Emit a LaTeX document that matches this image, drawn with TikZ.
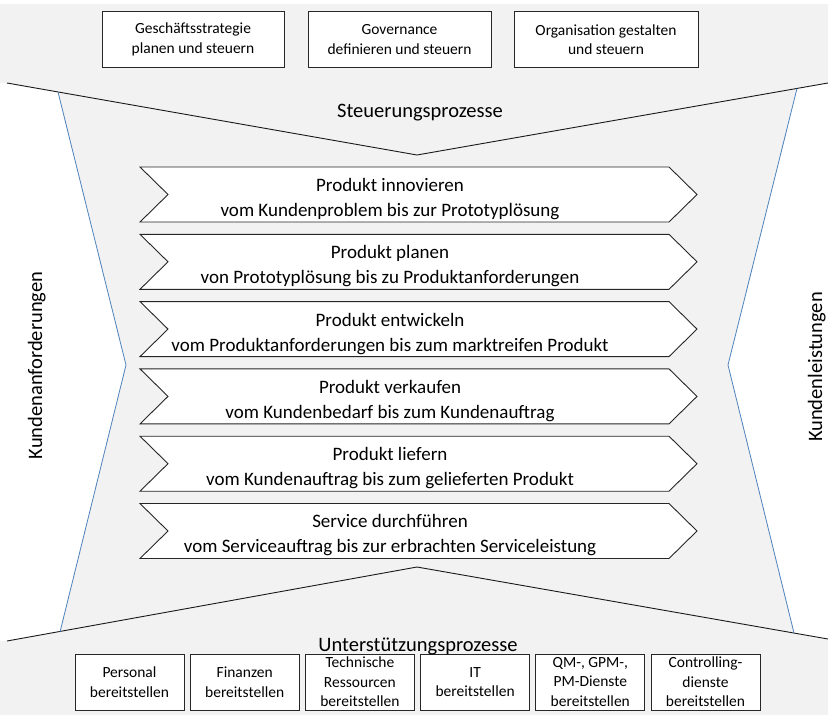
\documentclass[tikz,border=0pt]{standalone}
\usepackage{fontspec}
\setmainfont{Carlito}
\begin{document}
\begin{tikzpicture}[x=1pt,y=-1pt,
  band/.style={fill={rgb,255:red,242;green,242;blue,242}},
  edge/.style={draw=black!90,line width=0.9pt},
  side/.style={draw={rgb,255:red,79;green,129;blue,189},line width=0.8pt},
  procbox/.style={draw=black!85,line width=1pt,fill=white,rectangle,
    minimum height=56pt,inner sep=0pt,align=center,
    font=\fontsize{15.5}{19.5}\selectfont},
  chevron/.style={draw=black!85,line width=0.9pt,fill=white},
  chevtext/.style={align=center,font=\fontsize{19}{25}\selectfont},
  heading/.style={font=\fontsize{20.5}{24}\selectfont,anchor=base}]

\useasboundingbox (0,0) rectangle (828,715);
\fill[white] (0,0) rectangle (828,715);

% corner points of the funnel outline
\coordinate (tl) at (7,83);
\coordinate (tc) at (417,155);
\coordinate (tr) at (828,83);
\coordinate (bl) at (7,641);
\coordinate (bc) at (417,567);
\coordinate (br) at (828,639);
\coordinate (lt) at (58,92);
\coordinate (lm) at (126,365);
\coordinate (lb) at (60,632);
\coordinate (rt) at (797,88.5);
\coordinate (rm) at (728,365);
\coordinate (rb) at (794,633);

% grey areas
\fill[band] (0,4) -- (828,4) -- (tr) -- (tc) -- (tl) -- (0,83) -- cycle;
\fill[band] (lt) -- (tc) -- (rt) -- (rm) -- (rb) -- (bc) -- (lb) -- (lm) -- cycle;
\fill[band] (0,641) -- (bl) -- (bc) -- (br) -- (828,715) -- (0,715) -- cycle;

% outlines
\draw[edge] (tl) -- (tc) -- (tr);
\draw[edge] (bl) -- (bc) -- (br);
\draw[side] (lt) -- (lm) -- (lb);
\draw[side] (rt) -- (rm) -- (rb);

% management processes
\node[procbox,minimum width=182pt] (s1) at (193,39.5) {Geschäftsstrategie\\planen und steuern};
\node[procbox,minimum width=183pt] (s2) at (399.5,39.5) {Governance\\definieren und steuern};
\node[procbox,minimum width=184pt] (s3) at (606,39.5) {Organisation gestalten\\und steuern};
\node[heading] (steu) at (420,117) {Steuerungsprozesse};

% core processes
\foreach \i/\ttl/\sub in {
  1/{Produkt innovieren}/{vom Kundenproblem bis zur Prototyplösung},
  2/{Produkt planen}/{von Prototyplösung bis zu Produktanforderungen},
  3/{Produkt entwickeln}/{vom Produktanforderungen bis zum marktreifen Produkt},
  4/{Produkt verkaufen}/{vom Kundenbedarf bis zum Kundenauftrag},
  5/{Produkt liefern}/{vom Kundenauftrag bis zum gelieferten Produkt},
  6/{Service durchführen}/{vom Serviceauftrag bis zur erbrachten Serviceleistung}} {
  \pgfmathsetmacro{\yt}{167+67.3*(\i-1)}
  \pgfmathsetmacro{\ym}{\yt+27.5}
  \pgfmathsetmacro{\yb}{\yt+55}
  \draw[chevron] (140,\yt) -- (669,\yt) -- (697,\ym) -- (669,\yb) -- (140,\yb) -- (168,\ym) -- cycle;
  \node[chevtext] (p\i) at (390,\ym+4.5) {\ttl\\\sub};
}

% support processes
\foreach \i/\txt in {
  1/{Personal\\bereitstellen},
  2/{Finanzen\\bereitstellen},
  3/{Technische\\Ressourcen\\bereitstellen},
  4/{IT\\bereitstellen},
  5/{QM-, GPM-,\\PM-Dienste\\bereitstellen},
  6/{Controlling-\\dienste\\bereitstellen}} {
  \node[procbox,minimum width=109pt] (u\i) at ({129.5+115.2*(\i-1)},682) {\txt};
}
\node[heading] (unter) at (418,651.5) {Unterstützungsprozesse};

% customer side labels
\node[heading,rotate=90] (kanf) at (42,365.5) {Kundenanforderungen};
\node[heading,rotate=90] (klei) at (822,367) {Kundenleistungen};

\end{tikzpicture}
\end{document}
